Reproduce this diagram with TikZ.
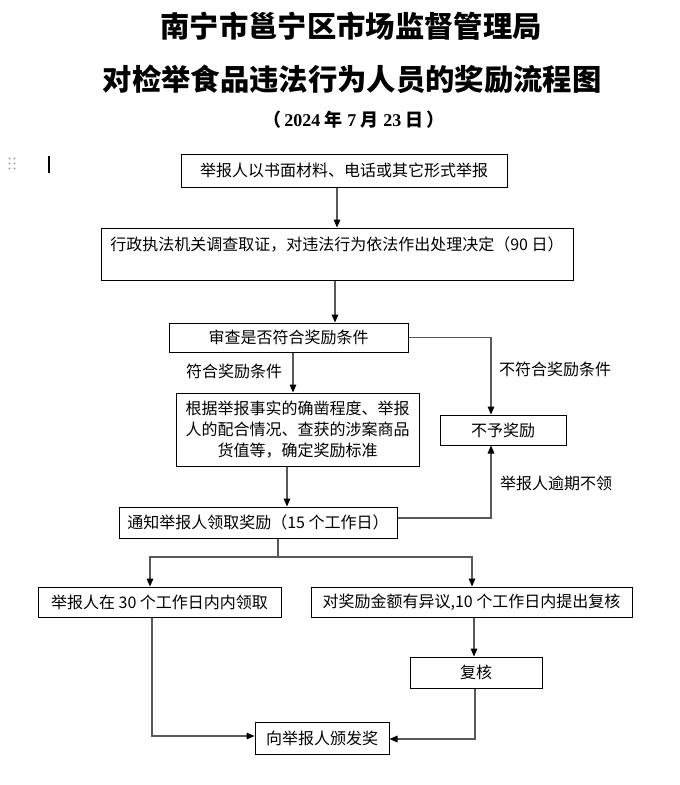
\documentclass[tikz,border=0pt]{standalone}
\usepackage{fontspec}
\setmainfont{Liberation Serif}
\newfontfamily\cjk{Noto Sans CJK SC}
\usetikzlibrary{arrows.meta}
\begin{document}
\begin{tikzpicture}[x=0.75pt,y=-0.75pt,
  box/.style={draw=black, line width=0.75pt, inner sep=0pt, align=center,
              font=\cjk\fontsize{12}{16}\selectfont},
  lab/.style={inner sep=0pt, font=\cjk\fontsize{12}{16}\selectfont},
  ttl/.style={inner sep=0pt, font=\cjk\bfseries\fontsize{22}{26}\selectfont},
  conn/.style={draw=black!65, line width=0.8pt},
  arr/.style={conn, -{Triangle[width=5pt,length=6pt,color=black,fill=black]}}
]
\useasboundingbox[fill=white] (0,0) rectangle (680,785);

% editor artefacts
\foreach \xx in {9.5,14.5} \foreach \yy in {158.5,163.5,168.5}
  \fill[black!35] (\xx,\yy) circle[radius=0.9pt];
\fill[black] (48,156) rectangle (50,173);

% titles
\node[ttl] (t1) at (351,26) {南宁市邕宁区市场监督管理局};
\node[ttl] (t2) at (352,79) {对检举食品违法行为人员的奖励流程图};
\node[inner sep=0pt, font=\bfseries\fontsize{13.5}{16}\selectfont] (t3) at (354,120)
  {{\cjk （}\,2024 {\cjk 年} 7 {\cjk 月} 23 {\cjk 日}\,{\cjk ）}};

% boxes
\node[box, minimum width=244.5pt, minimum height=24.75pt] (b1) at (344,170.5)
  {举报人以书面材料、电话或其它形式举报};
\node[box, minimum width=354pt, minimum height=39pt, align=left] (b2) at (337,254)
  {行政执法机关调查取证，对违法行为依法作出处理决定（90 日）\\ \mbox{}};
\node[box, minimum width=179.25pt, minimum height=21.75pt] (b3) at (288.5,337.5)
  {审查是否符合奖励条件};
\node[box, minimum width=182.25pt, minimum height=54.75pt] (b4) at (297.5,429.5)
  {根据举报事实的确凿程度、举报\\人的配合情况、查获的涉案商品\\货值等，确定奖励标准};
\node[box, minimum width=94.5pt, minimum height=22.5pt] (nb) at (503,430)
  {不予奖励};
\node[box, minimum width=208.5pt, minimum height=23.25pt] (b5) at (258,522.5)
  {通知举报人领取奖励（15 个工作日）};
\node[box, minimum width=182.25pt, minimum height=22.5pt] (b6) at (159.5,602)
  {举报人在 30 个工作日内内领取};
\node[box, minimum width=240.75pt, minimum height=22.5pt] (b7) at (471.5,602)
  {对奖励金额有异议,10 个工作日内提出复核};
\node[box, minimum width=99pt, minimum height=23.25pt] (b8) at (476,672.5)
  {复核};
\node[box, minimum width=100.5pt, minimum height=24pt] (b9) at (322,738)
  {向举报人颁发奖};

% labels
\node[lab] (l1) at (234,371) {符合奖励条件};
\node[lab] (l2) at (555,369) {不符合奖励条件};
\node[lab] (l3) at (556,483) {举报人逾期不领};

% connectors
\draw[arr] ([xshift=-5.25pt]b1.south) -- ([xshift=-5.25pt]b1.south |- b2.north);
\draw[arr] ([xshift=-1.5pt]b2.south) -- ([xshift=-1.5pt]b2.south |- b3.north);
\draw[arr] ([xshift=3.375pt]b3.south) -- ([xshift=3.375pt]b3.south |- b4.north);
\draw[arr] (b3.east) -| ([xshift=-9pt]nb.north);
\draw[arr] ([xshift=-7.875pt]b4.south) -- ([xshift=-7.875pt]b4.south |- b5.north);
\draw[arr] ([yshift=3.375pt]b5.east) -| ([xshift=-9pt]nb.south);
\coordinate (sp) at (278,557);
\draw[conn] ([xshift=15pt]b5.south) -- (sp);
\draw[arr] (sp) -| ([xshift=-7.125pt]b6.north);
\draw[arr] (sp) -| ([xshift=0.375pt]b7.north);
\draw[arr] ([xshift=1.875pt]b7.south) -- ([xshift=1.875pt]b7.south |- b8.north);
\draw[arr] ([xshift=-5.625pt]b6.south) |- ([yshift=1.5pt]b9.west);
\draw[arr] ([xshift=-0.75pt]b8.south) |- ([yshift=-0.75pt]b9.east);
\end{tikzpicture}
\end{document}
